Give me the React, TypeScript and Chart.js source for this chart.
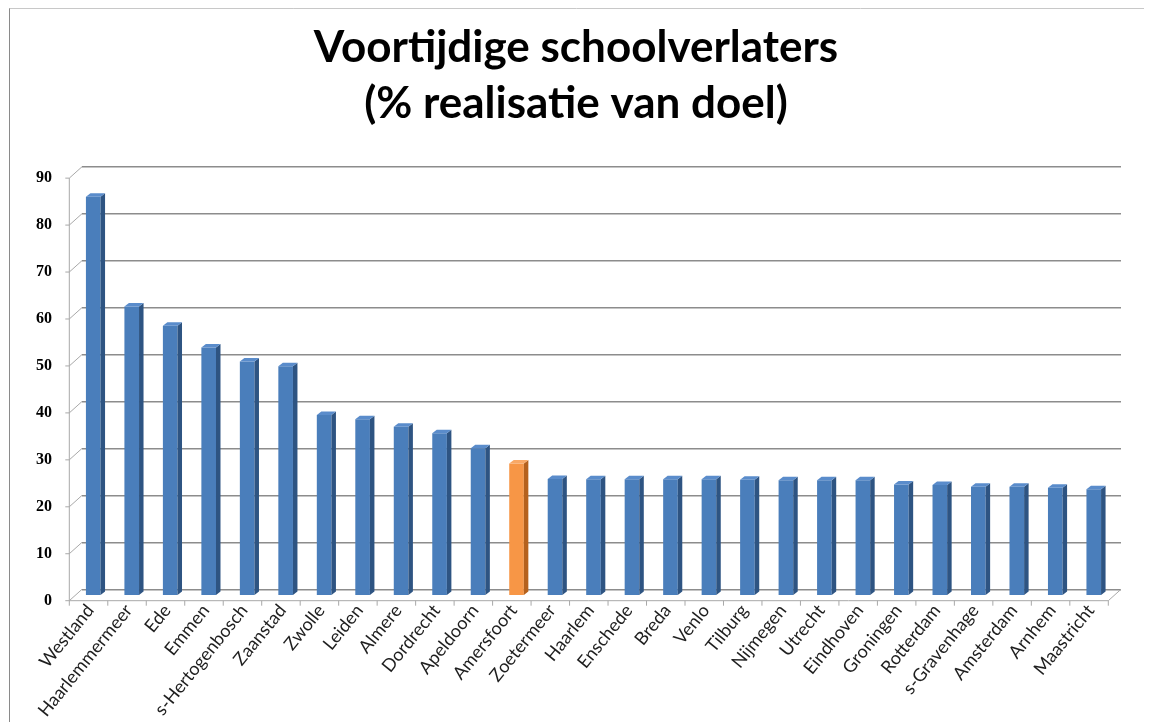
import React, { useEffect, useRef } from "react";
import { Chart, registerables } from "chart.js";

Chart.register(...registerables);

const titleLines = ["Voortijdige schoolverlaters", "(% realisatie van doel)"];

const categories = [
  "Westland", "Haarlemmermeer", "Ede", "Emmen", "s-Hertogenbosch", "Zaanstad",
  "Zwolle", "Leiden", "Almere", "Dordrecht", "Apeldoorn", "Amersfoort",
  "Zoetermeer", "Haarlem", "Enschede", "Breda", "Venlo", "Tilburg", "Nijmegen",
  "Utrecht", "Eindhoven", "Groningen", "Rotterdam", "s-Gravenhage", "Amsterdam",
  "Arnhem", "Maastricht",
];

const values = [
  85.0, 61.6, 57.5, 52.9, 49.9, 48.9, 38.5, 37.6, 36.0, 34.6, 31.4, 28.2,
  24.9, 24.8, 24.8, 24.8, 24.8, 24.7, 24.6, 24.6, 24.6, 23.7, 23.6, 23.2,
  23.2, 23.0, 22.7,
];

const highlighted = ["Amersfoort"];

const yMin = 0;
const yMax = 90;
const yStep = 10;

// styling / geometry (not data)
const CANVAS_W = 1136;
const CANVAS_H = 714;
const FRONT_DX = -12.7;
const FRONT_DY = 11.4;
const BAR_SHIFT_X = -8;
const BAR_SHIFT_Y = 6.5;
const DEPTH_DX = 4.5;
const DEPTH_DY = 3.5;

const BLUE = { front: "#4A7EBB", side: "#2E5482", top: "#5A8CCB" };
const ORANGE = { front: "#F79646", side: "#B5611D", top: "#F9A865" };

const palette = (name: string) => (highlighted.includes(name) ? ORANGE : BLUE);

const depthPlugin = {
  id: "depth3d",
  beforeDatasetsDraw(chart: any) {
    chart.ctx.save();
    chart.ctx.translate(BAR_SHIFT_X, BAR_SHIFT_Y);
  },
  afterDatasetsDraw(chart: any) {
    const ctx = chart.ctx;
    const meta = chart.getDatasetMeta(0);
    meta.data.forEach((bar: any, i: number) => {
      const { x, y, base, width } = bar.getProps(["x", "y", "base", "width"], true);
      const l = x - width / 2;
      const r = x + width / 2;
      const p = palette(categories[i]);
      ctx.fillStyle = p.side;
      ctx.beginPath();
      ctx.moveTo(r, y);
      ctx.lineTo(r + DEPTH_DX, y - DEPTH_DY);
      ctx.lineTo(r + DEPTH_DX, base - DEPTH_DY);
      ctx.lineTo(r, base);
      ctx.closePath();
      ctx.fill();
      ctx.fillStyle = p.top;
      ctx.beginPath();
      ctx.moveTo(l, y);
      ctx.lineTo(l + DEPTH_DX, y - DEPTH_DY);
      ctx.lineTo(r + DEPTH_DX, y - DEPTH_DY);
      ctx.lineTo(r, y);
      ctx.closePath();
      ctx.fill();
    });
    ctx.restore();
  },
  afterDraw(chart: any) {
    const ctx = chart.ctx;
    const area = chart.chartArea;
    const ys = chart.scales.y;
    const xs = chart.scales.x;
    ctx.save();
    ctx.strokeStyle = "#A8A8A8";
    ctx.lineWidth = 1;
    const fx = area.left + FRONT_DX;
    ctx.beginPath();
    ctx.moveTo(fx, area.top + FRONT_DY);
    ctx.lineTo(fx, area.bottom + FRONT_DY);
    ctx.stroke();
    for (let v = yMin; v <= yMax; v += yStep) {
      const py = ys.getPixelForValue(v);
      ctx.beginPath();
      ctx.moveTo(fx - 4, py + FRONT_DY);
      ctx.lineTo(fx, py + FRONT_DY);
      ctx.lineTo(area.left, py);
      ctx.stroke();
    }
    const fy = area.bottom + FRONT_DY;
    ctx.beginPath();
    ctx.moveTo(area.left + FRONT_DX, fy);
    ctx.lineTo(area.right + FRONT_DX, fy);
    ctx.lineTo(area.right, area.bottom);
    ctx.stroke();
    const n = categories.length;
    const step = (area.right - area.left) / n;
    for (let i = 0; i <= n; i++) {
      const px = (i < n ? xs.getPixelForValue(i) - step / 2 : xs.getPixelForValue(n - 1) + step / 2) + FRONT_DX;
      ctx.beginPath();
      ctx.moveTo(px, fy);
      ctx.lineTo(px, fy + 5);
      ctx.stroke();
    }
    ctx.strokeStyle = "#8A8A8A";
    ctx.beginPath();
    ctx.moveTo(1.5, 0);
    ctx.lineTo(1.5, chart.height);
    ctx.stroke();
    ctx.strokeStyle = "#C8C8C8";
    ctx.beginPath();
    ctx.moveTo(1.5, 0.5);
    ctx.lineTo(chart.width, 0.5);
    ctx.stroke();
    ctx.restore();
  },
};

export default function App() {
  const ref = useRef<HTMLCanvasElement | null>(null);
  useEffect(() => {
    if (!ref.current) return;
    const chart = new Chart(ref.current, {
      type: "bar",
      data: {
        labels: categories,
        datasets: [
          {
            data: values,
            backgroundColor: categories.map((c) => palette(c).front),
            borderWidth: 0,
            barPercentage: 0.38,
            categoryPercentage: 1,
            clip: false as any,
          },
        ],
      },
      options: {
        responsive: false,
        animation: false,
        layout: { padding: { left: 23, right: 23, top: 0, bottom: 0 } },
        plugins: {
          legend: { display: false },
          tooltip: { enabled: false },
          title: {
            display: true,
            text: titleLines,
            color: "#000000",
            font: { family: "Lato", size: 44, weight: "bold", lineHeight: 1.28 },
            padding: { top: 11.5, bottom: 34.6 },
          },
        },
        scales: {
          x: {
            grid: { display: false },
            border: { display: false },
            ticks: {
              autoSkip: false,
              maxRotation: 51,
              minRotation: 51,
              labelOffset: -11,
              padding: 3,
              color: "#1E1E1E",
              font: { family: "Lato", size: 18 },
            },
            afterFit: (scale: any) => {
              scale.height = CANVAS_H - 581.3;
            },
          },
          y: {
            min: yMin,
            max: yMax,
            grid: { color: "#8C8C8C", lineWidth: 1.5, drawTicks: false },
            border: { display: false },
            ticks: {
              stepSize: yStep,
              labelOffset: FRONT_DY,
              padding: 30,
              color: "#000000",
              font: { family: "Liberation Serif", size: 16, weight: "bold" },
            },
            afterFit: (scale: any) => {
              scale.width = 51;
            },
          },
        },
      },
      plugins: [depthPlugin],
    });
    return () => chart.destroy();
  }, []);
  return (
    <div style={{ width: CANVAS_W, height: 706, background: "#fff" }}>
      <canvas
        ref={ref}
        width={CANVAS_W}
        height={CANVAS_H}
        style={{ display: "block", position: "fixed", left: 8, top: 8 }}
      />
    </div>
  );
}
